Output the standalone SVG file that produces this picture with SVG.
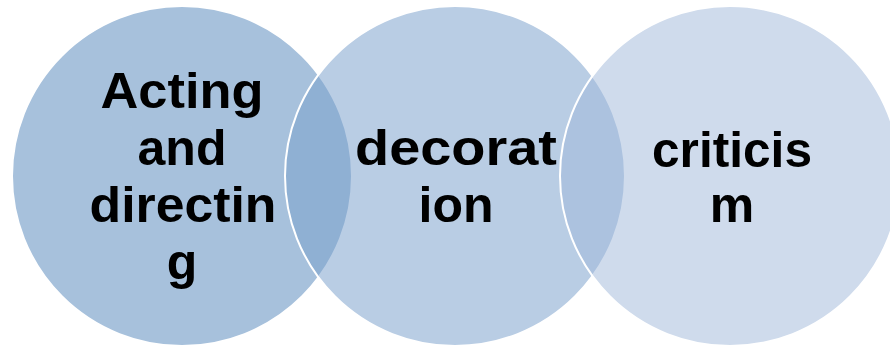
<svg xmlns="http://www.w3.org/2000/svg" width="890" height="347" viewBox="0 0 890 347">
<style>
.c{stroke:#ffffff;stroke-width:2}
.t{font-family:"Liberation Sans",Arial,sans-serif;font-weight:bold;font-size:50px;fill:#000000;text-anchor:middle}
</style>
<rect width="890" height="347" fill="#ffffff"/>
<g id="node1">
<circle class="c" cx="182" cy="176" r="170" fill="rgb(89,138,189)" fill-opacity="0.53"/>
</g>
<g id="node2">
<circle class="c" cx="455" cy="176" r="170" fill="rgb(122,161,204)" fill-opacity="0.53"/>
</g>
<g id="node3">
<circle class="c" cx="730" cy="176" r="170" fill="rgb(159,183,217)" fill-opacity="0.5"/>
</g>
<g id="labels">
<text class="t" x="182" y="108" textLength="163" lengthAdjust="spacingAndGlyphs">Acting</text>
<text class="t" x="182" y="165">and</text>
<text class="t" x="183" y="222" textLength="187" lengthAdjust="spacingAndGlyphs">directin</text>
<text class="t" x="182" y="279">g</text>
<text class="t" x="456" y="165" textLength="202" lengthAdjust="spacingAndGlyphs">decorat</text>
<text class="t" x="456" y="222">ion</text>
<text class="t" x="732" y="167" textLength="160" lengthAdjust="spacingAndGlyphs">criticis</text>
<text class="t" x="732" y="222">m</text>
</g>
<g id="connectors"/>
</svg>
